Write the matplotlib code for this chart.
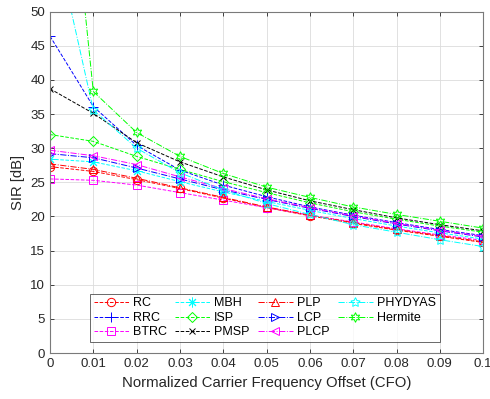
import matplotlib
matplotlib.use("Agg")
import matplotlib.pyplot as plt

plt.rcParams['font.family'] = ['Liberation Sans', 'DejaVu Sans']

cfo = [0, 0.01, 0.02, 0.03, 0.04, 0.05, 0.06, 0.07, 0.08, 0.09, 0.1]
xtick_labels = ['0', '0.01', '0.02', '0.03', '0.04', '0.05', '0.06', '0.07', '0.08', '0.09', '0.1']

rc      = [27.3, 26.6, 25.4, 24.1, 22.7, 21.3, 20.1, 19.0, 18.0, 17.1, 16.2]
rrc     = [46.4, 36.1, 30.4, 26.8, 24.6, 22.9, 21.4, 20.2, 19.1, 18.1, 17.2]
btrc    = [25.5, 25.3, 24.6, 23.5, 22.4, 21.3, 20.2, 19.2, 18.2, 17.3, 16.5]
mbh     = [28.4, 28.0, 26.7, 25.1, 23.6, 22.2, 20.9, 19.7, 18.6, 17.6, 16.7]
isp     = [32.0, 31.0, 28.8, 26.9, 25.1, 23.5, 22.0, 20.7, 19.6, 18.6, 17.7]
pmsp    = [38.7, 35.1, 30.8, 28.0, 25.8, 23.9, 22.3, 21.0, 19.8, 18.8, 17.9]
plp     = [27.7, 26.9, 25.6, 24.2, 22.8, 21.4, 20.2, 19.1, 18.1, 17.2, 16.3]
lcp     = [29.2, 28.6, 27.1, 25.5, 23.9, 22.5, 21.2, 20.0, 18.9, 17.9, 17.0]
plcp    = [29.7, 28.9, 27.6, 25.8, 24.1, 22.6, 21.3, 20.1, 19.0, 18.0, 17.1]
phydyas = [64.0, 35.6, 30.0, 26.4, 23.9, 21.9, 20.3, 18.8, 17.7, 16.6, 15.6]
hermite = [100.0, 38.3, 32.3, 28.8, 26.3, 24.3, 22.8, 21.4, 20.3, 19.3, 18.3]

RED, BLUE, MAG, CYAN, GREEN, BLACK = '#FF0000', '#0000FF', '#FF00FF', '#00FFFF', '#00FF00', '#000000'

fig = plt.figure(figsize=(4.9, 3.99), dpi=100)
ax = fig.add_axes([0.102, 0.115, 0.884, 0.856])

lw = 0.7
ms = 6
series = [
    ('RC', rc, RED, '--', 'o', ms),
    ('RRC', rrc, BLUE, '--', '+', ms + 1),
    ('BTRC', btrc, MAG, '--', 's', ms - 0.5),
    ('MBH', mbh, CYAN, '--', (8, 2, 0), ms + 1),
    ('ISP', isp, GREEN, '--', 'D', ms - 1),
    ('PMSP', pmsp, BLACK, '--', 'x', ms - 1),
    ('PLP', plp, RED, '-.', '^', ms),
    ('LCP', lcp, BLUE, '-.', '>', ms),
    ('PLCP', plcp, MAG, '-.', '<', ms),
    ('PHYDYAS', phydyas, CYAN, '-.', (5, 1, 0), ms + 1),
    ('Hermite', hermite, GREEN, '-.', (6, 1, 0), ms + 1),
]
for name, vals, col, ls, mk, size in series:
    ax.plot(cfo, vals, color=col, linestyle=ls, marker=mk, markersize=size,
            markerfacecolor='none', markeredgecolor=col, markeredgewidth=0.7,
            linewidth=lw, label=name)

ax.set_xlim(0, 0.1)
ax.set_ylim(0, 50)
ax.set_xticks(cfo)
ax.set_xticklabels(xtick_labels)
ax.set_yticks(range(0, 51, 5))
ax.tick_params(direction='in', top=True, right=True, labelsize=9.5,
               colors='#262626', length=3, width=0.6)
ax.grid(True, color='#dcdcdc', linewidth=0.6)
ax.set_axisbelow(True)
for s in ax.spines.values():
    s.set_color('#7a7a7a')
    s.set_linewidth(0.8)

ax.set_xlabel('Normalized Carrier Frequency Offset (CFO)', fontsize=10.7, color='#262626')
ax.set_ylabel('SIR [dB]', fontsize=10.7, color='#262626')

leg = ax.legend(ncol=4, loc='lower left', bbox_to_anchor=(0.092, 0.032, 0.808, 0.152),
                mode='expand', fontsize=9, frameon=True, fancybox=False,
                handlelength=2.8, handletextpad=0.35, columnspacing=0.4,
                labelspacing=0.2, borderpad=0.3, borderaxespad=0)
leg.get_frame().set_edgecolor('#262626')
leg.get_frame().set_linewidth(0.6)

fig.savefig('out.png', dpi=100)
